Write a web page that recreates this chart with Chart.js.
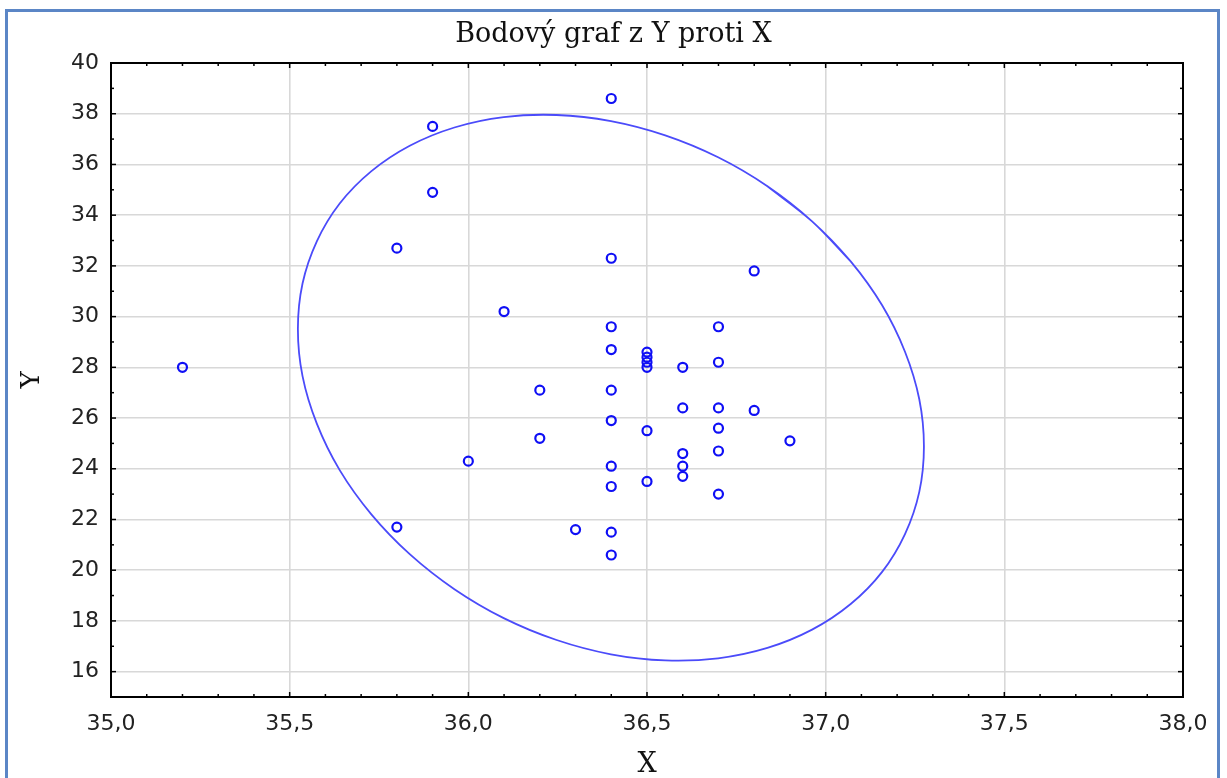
<!DOCTYPE html>
<html>
<head>
<meta charset="utf-8">
<script src="https://cdn.jsdelivr.net/npm/chart.js@4"></script>
<style>
  html, body { margin: 0; padding: 0; background: #fff; overflow: hidden; }
  #frame { position: absolute; left: 5px; top: 9px; width: 1215px; height: 800px; border: 3px solid #5b86c6; box-sizing: border-box; }
  #wrap { position: absolute; left: 0; top: 0; width: 1227px; height: 778px; }
</style>
</head>
<body>
<div id="frame"></div>
<div id="wrap"><canvas id="chart"></canvas></div>
<script>
const xTicks = [35.0, 35.5, 36.0, 36.5, 37.0, 37.5, 38.0];
const xTickLabels = ["35,0", "35,5", "36,0", "36,5", "37,0", "37,5", "38,0"];
const yTicks = [16, 18, 20, 22, 24, 26, 28, 30, 32, 34, 36, 38, 40];
const yTickLabels = ["16", "18", "20", "22", "24", "26", "28", "30", "32", "34", "36", "38", "40"];

// measured points (X, Y)
const xs = [35.2, 36.4, 35.9, 35.9, 35.8, 36.4, 36.8, 36.1, 36.4, 36.7,
            36.4, 36.5, 36.5, 36.5, 36.5, 36.6, 36.7, 36.2, 36.4, 36.6,
            36.7, 36.8, 36.4, 36.7, 36.5, 36.2, 36.9, 36.6, 36.7, 36.0,
            36.4, 36.6, 36.6, 36.4, 36.5, 36.7, 35.8, 36.3, 36.4, 36.4];
const ys = [28.0, 38.6, 37.5, 34.9, 32.7, 32.3, 31.8, 30.2, 29.6, 29.6,
            28.7, 28.6, 28.4, 28.2, 28.0, 28.0, 28.2, 27.1, 27.1, 26.4,
            26.4, 26.3, 25.9, 25.6, 25.5, 25.2, 25.1, 24.6, 24.7, 24.3,
            24.1, 24.1, 23.7, 23.3, 23.5, 23.0, 21.7, 21.6, 21.5, 20.6];

// ellipse outline (from the upper right, clockwise;
// the ends overlap on the flat upper-right side so the join does not show)
const ellipseX = [36.837, 36.962, 37.070, 37.158, 37.222, 37.262,
                  37.275, 37.262, 37.222, 37.158, 37.070, 36.962, 36.837, 36.699, 36.551, 36.399,
                  36.247, 36.099, 35.961, 35.836, 35.728, 35.640, 35.576, 35.536, 35.523, 35.536,
                  35.576, 35.640, 35.728, 35.836, 35.961, 36.099, 36.247, 36.399, 36.551, 36.699,
                  36.837, 36.962, 37.070];
const ellipseY = [35.140, 33.758, 32.178, 30.445, 28.614, 26.739,
                  24.879, 23.090, 21.424, 19.934, 18.665, 17.655, 16.935, 16.526, 16.443, 16.685,
                  17.247, 18.111, 19.252, 20.634, 22.214, 23.947, 25.779, 27.653, 29.513, 31.303,
                  32.968, 34.458, 35.727, 36.737, 37.457, 37.866, 37.949, 37.707, 37.145, 36.281,
                  35.140, 33.758, 32.178];

const frameTicks = {
  id: "frameTicks",
  afterDraw(chart) {
    const { ctx, chartArea: a, scales: { x, y } } = chart;
    const seg = (x1, y1, x2, y2) => { ctx.beginPath(); ctx.moveTo(x1, y1); ctx.lineTo(x2, y2); ctx.stroke(); };
    ctx.save();
    ctx.strokeStyle = "#000";
    ctx.lineWidth = 1.5;
    for (let i = 0; i <= 30; i++) {
      const px = x.getPixelForValue(35 + i / 10);
      const len = i % 5 === 0 ? 5 : 3;
      seg(px, a.bottom, px, a.bottom - len);
      seg(px, a.top, px, a.top + len);
    }
    for (let v = 15; v <= 40; v++) {
      const py = y.getPixelForValue(v);
      const len = v % 2 === 0 ? 5 : 3;
      seg(a.left, py, a.left + len, py);
      seg(a.right, py, a.right - len, py);
    }
    ctx.lineWidth = 2;
    ctx.strokeRect(a.left, a.top, a.right - a.left, a.bottom - a.top);
    ctx.restore();
  },
};

const tickFont = { family: "DejaVu Sans", size: 22 };

new Chart(document.getElementById("chart"), {
  type: "scatter",
  data: {
    datasets: [
      {
        label: "Y",
        data: xs.map((v, i) => ({ x: v, y: ys[i] })),
        pointRadius: 4.5,
        pointBorderWidth: 2.2,
        borderColor: "rgb(15,15,245)",
        backgroundColor: "rgba(255,255,255,0)",
      },
      {
        type: "line",
        label: "elipsa",
        data: ellipseX.map((v, i) => ({ x: v, y: ellipseY[i] })),
        pointRadius: 0,
        borderColor: "rgb(75,75,250)",
        borderWidth: 1.8,
        tension: 0.33,
        fill: false,
      },
    ],
  },
  options: {
    responsive: true,
    maintainAspectRatio: false,
    animation: false,
    layout: { padding: 0 },
    plugins: {
      legend: { display: false },
      tooltip: { enabled: false },
      title: {
        display: true,
        text: "Bodový graf z Y proti X",
        color: "#111",
        font: { family: "DejaVu Serif", size: 27, weight: "normal" },
        padding: { top: 19, bottom: 11.6 },
      },
    },
    scales: {
      x: {
        type: "linear",
        min: 35,
        max: 38,
        afterBuildTicks: (s) => { s.ticks = xTicks.map((v) => ({ value: v })); },
        afterFit: (s) => { s.height = 81; },
        ticks: {
          callback: (v, i) => xTickLabels[i],
          font: tickFont,
          color: "#222",
          padding: 14,
          maxRotation: 0,
        },
        grid: { color: "#d8d8d8", lineWidth: 1.6, drawTicks: false },
        border: { display: true, color: "#000", width: 2 },
        title: {
          display: true,
          text: "X",
          color: "#111",
          font: { family: "DejaVu Serif", size: 27, lineHeight: 1 },
          padding: { top: 0, bottom: 0 },
        },
      },
      y: {
        type: "linear",
        min: 15,
        max: 40,
        afterBuildTicks: (s) => { s.ticks = yTicks.map((v) => ({ value: v })); },
        afterFit: (s) => { s.width = 111; },
        ticks: {
          callback: (v, i) => yTickLabels[i],
          font: tickFont,
          color: "#222",
          padding: 12,
        },
        grid: { color: "#d8d8d8", lineWidth: 1.6, drawTicks: false },
        border: { display: true, color: "#000", width: 2 },
        title: {
          display: true,
          text: "Y",
          color: "#111",
          font: { family: "DejaVu Serif", size: 26, lineHeight: 1.2 },
          padding: { top: 17, bottom: 0 },
        },
      },
      // empty right-hand axis: only keeps the margin on the right
      yRight: {
        type: "linear",
        position: "right",
        afterFit: (s) => { s.width = 44; },
        ticks: { display: false },
        grid: { display: false, drawOnChartArea: false },
        border: { display: false },
      },
    },
  },
  plugins: [frameTicks],
});
</script>
</body>
</html>
